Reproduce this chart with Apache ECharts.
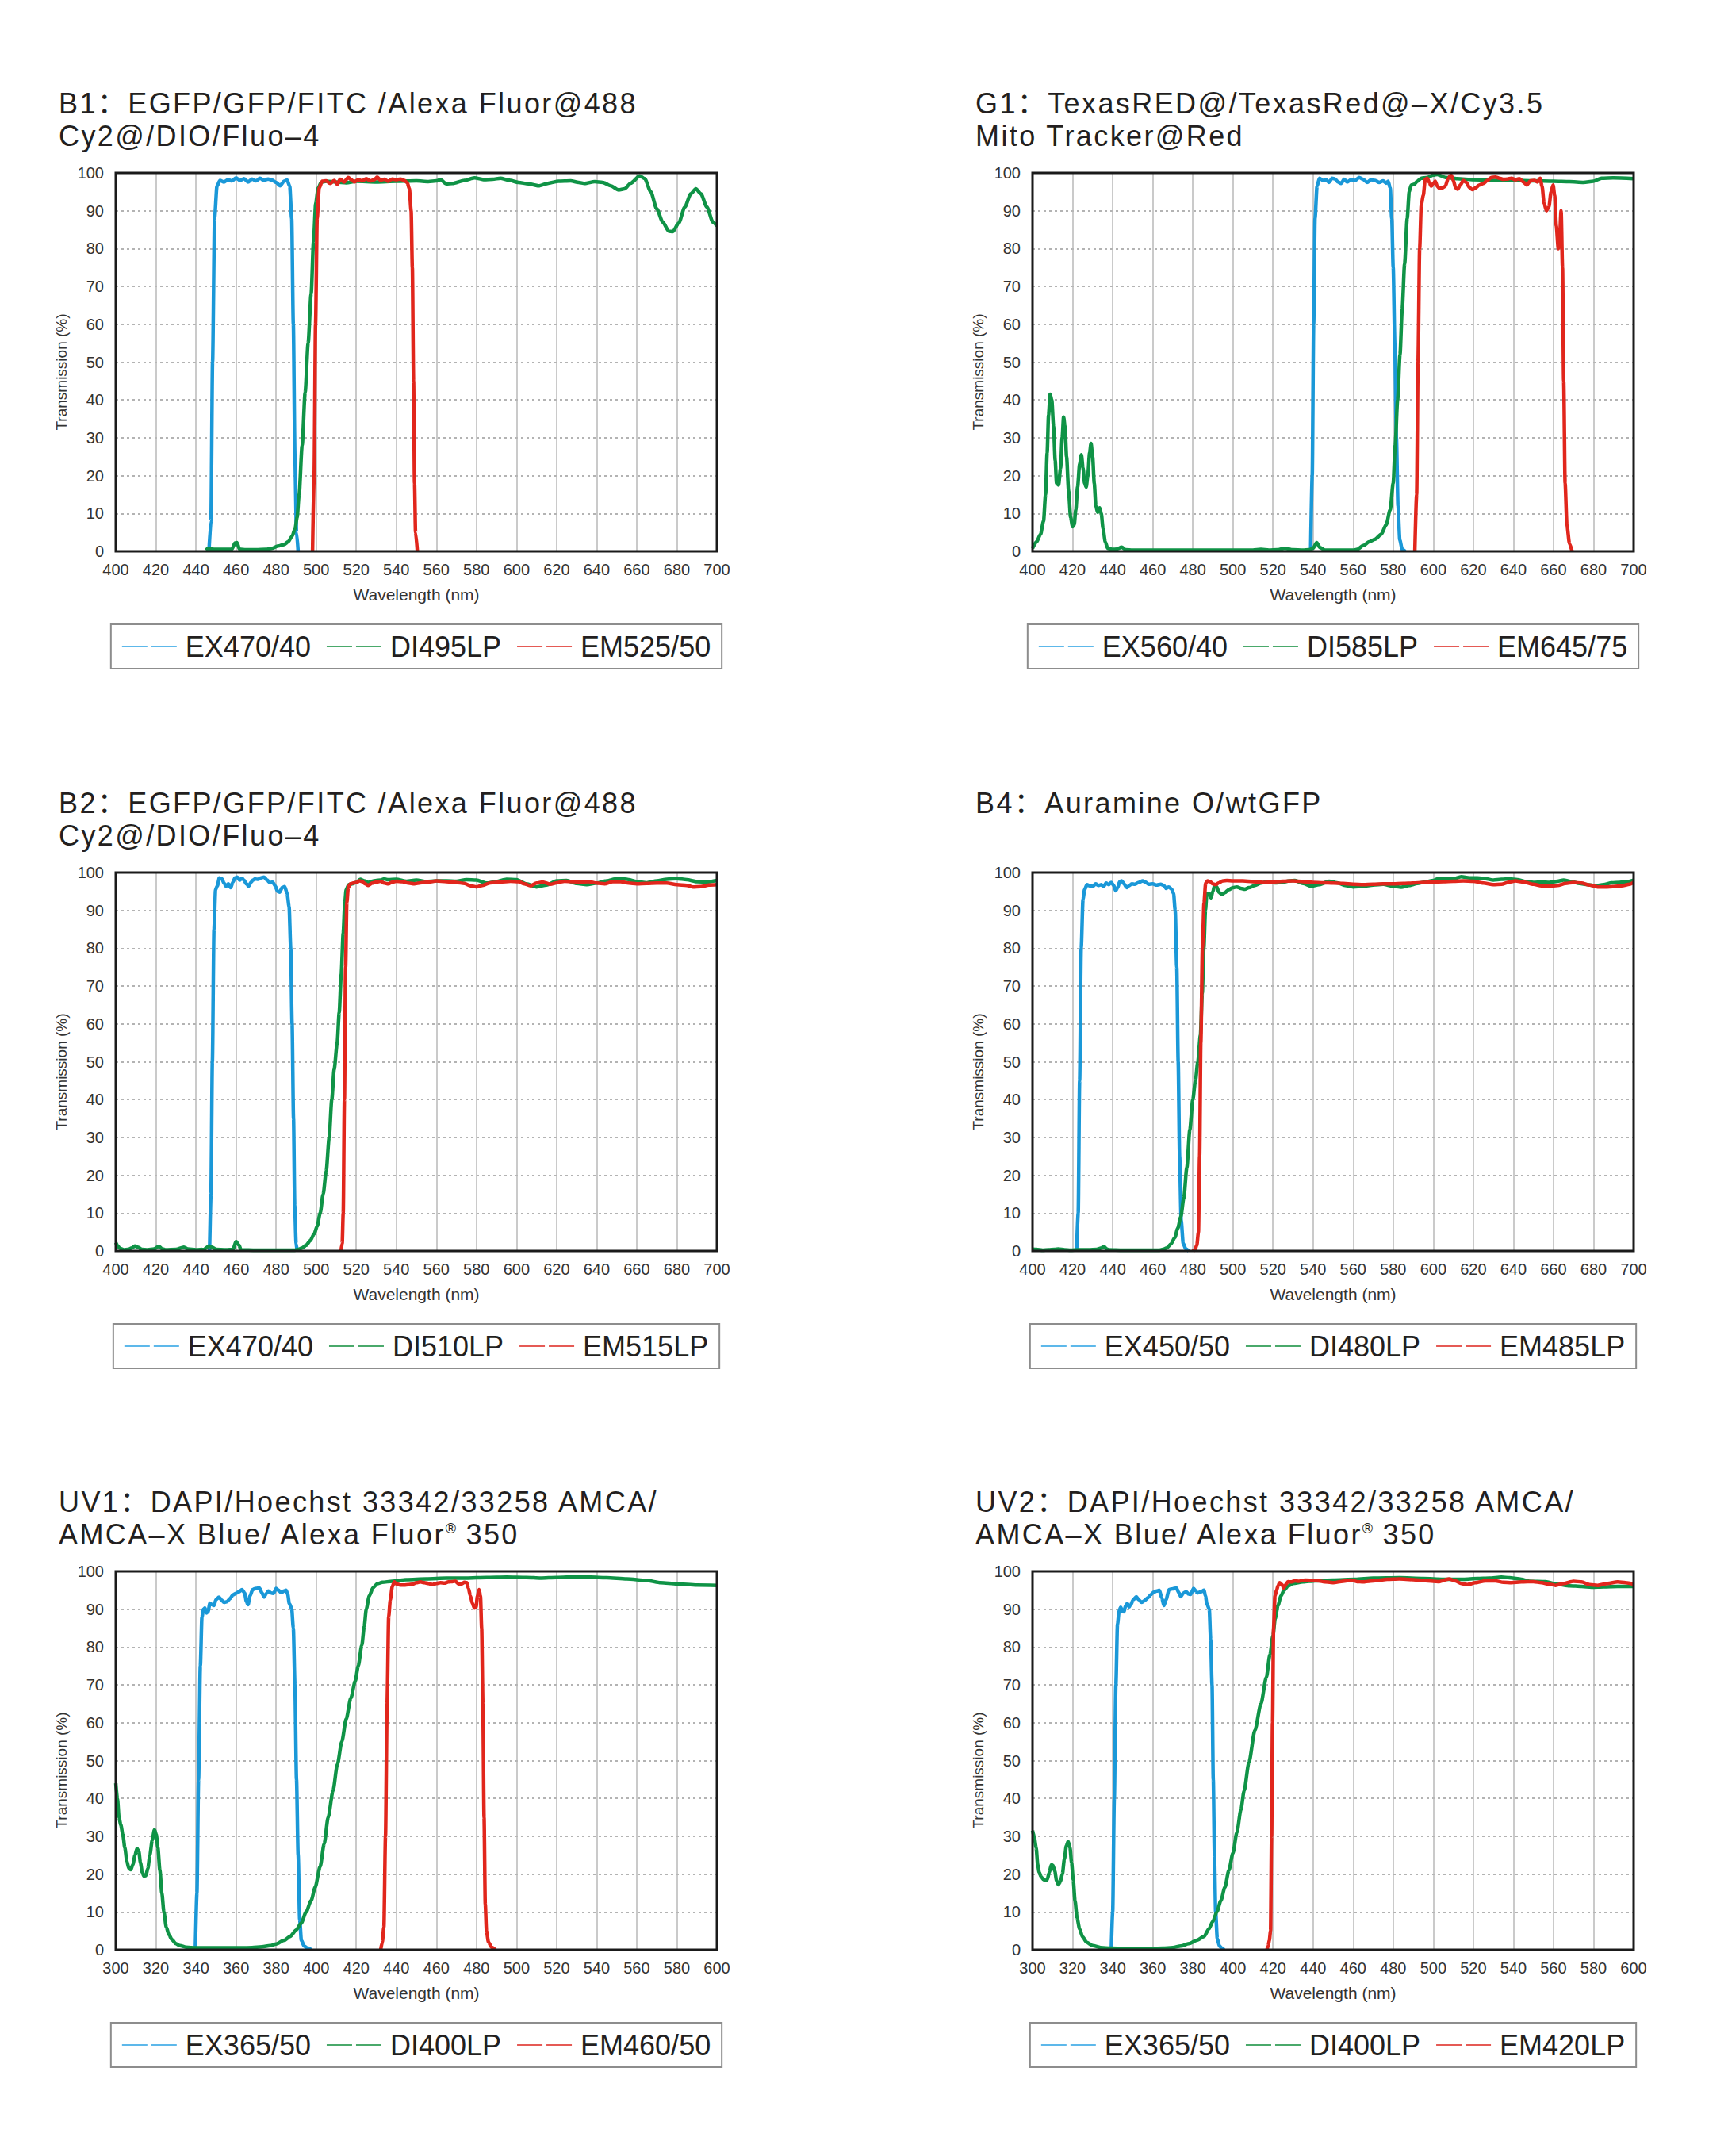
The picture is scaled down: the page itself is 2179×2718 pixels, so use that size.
<!DOCTYPE html>
<html>
<head>
<meta charset="utf-8">
<script src="https://cdn.jsdelivr.net/npm/echarts@6/dist/echarts.min.js"></script>
<style>
  html, body { margin: 0; padding: 0; background: #ffffff; }
  body { width: 2179px; height: 2718px; position: relative; overflow: hidden; }
  .panel { position: absolute; width: 1050px; height: 882px; }
  .chart { position: absolute; left: 0; top: 0; width: 1050px; height: 882px; }
  .title { position: absolute; left: 74px; top: 110px; z-index: 2;
           font-family: 'Liberation Sans', Arial, 'Noto Sans CJK SC', sans-serif;
           font-size: 36px; line-height: 41px; letter-spacing: 2.4px; color: #231f20; white-space: pre; }
  .title sup { font-size: 18px; letter-spacing: 0; vertical-align: 14px; line-height: 0; }
</style>
</head>
<body>
<div id="root"></div>
<script>
// ---------------- DATA ----------------
// B1
const b1Ex = [[446.5,0],[447.5,8],[448.3,50],[449.3,88],[450.5,96.5],[452,98],[454,97.6],[456,98.2],[458,97.9],[460,98.7],[462,98],[464,98.5],[466,97.6],[468,98.4],[470,97.9],[472,98.6],[474,98],[476,98.4],[478,98.1],[480,97.5],[482,96.6],[484,97.8],[485.5,98.1],[486.8,96.5],[487.8,88],[488.6,60],[489.4,25],[490.2,5],[491,0]];
const b1Di = [[445,0.3],[446,0.8],[448,0.6],[450,0.5],[455,0.5],[458,0.6],[459.5,2.2],[460.5,2.3],[461.7,0.6],[465,0.4],[470,0.4],[475,0.5],[478,0.8],[481,1.4],[484,1.8],[486,2.5],[488,4],[489.5,6],[490.5,9],[491.5,15],[493,28],[494.5,42],[496,55],[497.5,68],[498.7,82],[499.8,92],[501,96],[502.5,97.5],[505,97.8],[510,97.6],[515,97.4],[520,97.8],[530,97.6],[540,97.8],[550,97.9],[556,97.7],[560,97.9],[562,98.2],[565,97.1],[568,97.2],[574,98],[579,98.7],[584,98.2],[588,98.3],[592,98.6],[596,98.1],[601,97.5],[606,97.1],[611,96.6],[616,97.3],[621,97.8],[627,97.9],[631,97.5],[634,97.2],[639,97.7],[643,97.5],[647,96.6],[651,95.5],[654,95.8],[657,97.3],[661.5,99.2],[664,98.5],[667,95],[670,90.5],[673,87],[676,84.6],[678,84.5],[681,86.8],[684,91],[687,94.5],[689.5,95.8],[692,94.5],[695,91],[698,87],[700,86]];
const b1Em = [[498.2,0],[499,20],[499.7,60],[500.5,88],[501.5,96],[503,97.8],[505,97.9],[507,97.2],[509,98],[510.5,97],[512,98.3],[514,97.6],[516,98.8],[517.5,98.2],[519,97.6],[521,98.2],[523,97.9],[525,98.5],[527,97.9],[529,98.2],[530.5,98.9],[532,98.1],[534,98.3],[536,97.8],[538,98.4],[540,98.2],[542,98.4],[544,98],[545.5,97.4],[546.5,95.8],[547.4,90],[548,75],[548.6,45],[549.1,18],[549.6,5],[550.5,0]];
// G1
const g1Ex = [[538.8,0],[539.6,20],[540.3,60],[541,88],[542,96.5],[543.2,98.6],[545,98],[546.5,98.2],[548,97.5],[549.5,98.6],[551,98.4],[552.5,97.6],[554,97.2],[555.5,98.3],[557,97.6],[559,98.2],[561,98],[563,98.8],[565,98.3],[567,97.5],[569,98.2],[571,98],[573,97.5],[575,97.9],[576.5,97.3],[577.5,97.8],[578.5,96],[579.3,88],[580,75],[580.8,55],[581.6,30],[582.4,12],[583.3,3],[584.5,0.5],[586,0]];
const g1Di = [[400,0.8],[402,2.5],[404,4.5],[405.5,8],[406.5,15],[407.3,26],[408,36],[408.8,41.5],[409.6,40],[410.5,33],[411.3,24],[412,18],[413,17.5],[414,22],[414.8,30],[415.5,35.5],[416.2,33],[417,25],[418,16],[419,9],[420,6.5],[420.8,7],[421.6,11],[422.5,17],[423.5,23],[424.4,25.5],[425.2,22],[426,18],[426.8,17],[427.6,20],[428.5,26],[429.2,28.5],[430,25],[430.8,18],[431.6,12],[432.5,10.3],[433.5,11.5],[434.3,10],[435.2,6],[436.3,2.5],[437.5,0.8],[440,0.5],[442,0.6],[444.5,1.1],[446.5,0.4],[450,0.3],[480,0.3],[510,0.3],[514,0.5],[518,0.3],[522,0.4],[526,0.8],[530,0.4],[535,0.3],[538,0.4],[540,0.8],[541.8,2.3],[543.5,1],[546,0.3],[560,0.3],[562,0.5],[565,1.5],[568,2.5],[571,3.2],[574,4.5],[576.5,7],[578.5,11],[580,18],[581,28],[582.2,40],[583.4,52],[584.5,64],[585.7,76],[587,88],[588,95],[589,96.8],[590.5,97],[592,97.8],[594,98.6],[597,98.8],[600,99.4],[602,99.6],[606,98.8],[612,98.5],[620,98.2],[630,98],[640,98],[650,97.9],[660,97.8],[668,97.7],[675,97.5],[680,97.8],[684,98.6],[690,98.7],[700,98.5]];
const g1Em = [[590.8,0],[591.7,15],[592.4,50],[593.2,80],[594,91.5],[595,94],[596,98.3],[597,98.6],[598,97.5],[599,96.5],[600,97.2],[601,97.8],[602,96.5],[603,95.9],[604.5,96],[606,96.5],[607.5,98.6],[608.9,99.5],[610,98],[611.2,96],[612.2,95.7],[613.5,96.8],[615,98],[616.5,97.5],[618,96.2],[619.5,95.6],[621,96],[623,96.8],[625,97.2],[627,98],[629,98.8],[631,98.9],[633,98.6],[635,98.3],[637,98.4],[639,98.6],[641,98.2],[643,98.5],[645,97.6],[646.7,96.8],[648.5,97.9],[650.5,98],[652,97.6],[653.3,98.6],[654.3,96.5],[655.3,92],[656.5,90],[657.7,91],[658.8,95],[659.8,96.8],[660.6,94],[661.4,86],[662.4,80],[663,82],[663.8,90],[664.5,75],[665.1,45],[665.8,18],[666.7,7],[668,2],[669.3,0]];
// B2
const b2Ex = [[446.8,0],[447.5,15],[448.2,50],[449,85],[449.8,95.5],[450.7,96.5],[451.7,98.6],[453,98.3],[454,97.2],[455,96.4],[456.2,97],[457.3,96],[458.5,97.5],[459.5,98.6],[460.6,98.8],[461.8,98],[463,98.5],[464,98],[465.2,97],[466.4,96.4],[467.4,97.4],[468.5,98],[469.5,98.3],[471,98.2],[472.5,98.6],[474,98.8],[475.5,98],[477,97.3],[478.3,97.5],[479.5,96.5],[480.8,95],[481.8,94.8],[483,96],[484.3,96.3],[485.5,94.5],[486.5,91],[487.3,80],[488,60],[488.7,35],[489.3,12],[490,2],[490.5,0]];
const b2Di = [[400,2.2],[401,1.3],[402,0.7],[404,0.3],[406,0.4],[408,0.8],[409.5,1.3],[411,1],[413,0.4],[416,0.3],[419,0.5],[421.5,1.2],[423,0.6],[425,0.3],[430,0.4],[434,1],[436,0.5],[440,0.3],[444,0.4],[446.5,1.3],[448,1],[450,0.4],[455,0.3],[458.5,0.4],[460,2.5],[461.5,1.5],[462.5,0.3],[470,0.2],[480,0.2],[489,0.2],[491,0.4],[493,0.8],[495,1.5],[497,2.7],[499,4.5],[500.5,6.5],[502,10],[503.5,15],[505,21],[506.5,30],[507.8,40],[509,48],[510.5,55],[511.5,63],[512.5,73],[513.5,84],[514.3,92],[515,95.5],[516.3,96.8],[518,97],[520,97.4],[522,98.2],[524,97.8],[526,97.4],[528,97.7],[530,97.9],[532,98],[534,98.3],[536,98.1],[540,98.2],[545,97.7],[550,98],[555,97.6],[560,97.8],[565,97.8],[570,97.7],[575,98.1],[580,98],[585,97.2],[590,97.6],[595,98.2],[600,98.1],[605,97],[610,96.2],[615,96.7],[620,97.8],[625,97.9],[630,97.1],[635,96.8],[640,97.2],[645,97.8],[650,98.4],[655,98.2],[660,97.6],[665,97.3],[670,97.8],[675,98.2],[680,98.4],[685,98.1],[690,97.6],[695,97.5],[700,97.9]];
const b2Em = [[512.4,0],[513,2],[513.5,10],[514.1,40],[514.7,75],[515.3,92],[516,96],[517,97],[518.5,97.2],[520,97.4],[521.7,97.8],[523,97.6],[524.5,97],[526,96.6],[528,97.2],[530,97.5],[532,97.7],[534,97.2],[536,97],[538,97.5],[540,97.7],[543,97.6],[546,97.2],[549,97],[552,97.3],[556,97.5],[560,97.8],[565,97.6],[570,97.4],[574,97.1],[577,96.5],[580,96.2],[583,96.6],[587,97.3],[592,97.5],[597,97.7],[601,97.6],[604,97],[607,96.5],[610,97.2],[613,97.5],[617,96.9],[620,97.3],[624,97.7],[628,97.6],[632,97.5],[636,97.6],[640,97.2],[644,97],[648,97.6],[652,97.6],[656,97.2],[660,97],[665,97.1],[670,97.2],[675,97.2],[680,96.8],[685,96.6],[688,96.2],[692,96.3],[696,96.7],[700,96.8]];
// B4
const b4Ex = [[422,0],[422.8,10],[423.5,45],[424.3,80],[425.2,93],[426,95.5],[427.2,96.8],[428.5,96.5],[430,96.3],[431.5,97],[433,96.6],[434.3,96.8],[435.5,96.3],[436.7,97.2],[438,96.8],[439.3,97.4],[440.5,96.6],[441.5,95.2],[442.5,96],[443.5,97.6],[444.5,97.8],[445.7,97],[447,96],[448.2,96.5],[449.5,97],[451,96.9],[453,97.4],[455,97.8],[456.3,97.5],[458,96.9],[460,97],[462,96.7],[464,96.9],[465.5,96.6],[466.7,95.8],[468,96.2],[469.4,95.6],[470.4,94.5],[471.2,90],[472,75],[472.7,50],[473.4,25],[474.2,8],[475.2,2],[476.5,0.5],[478,0]];
const b4Di = [[400,0.5],[402,0.4],[405,0.2],[408,0.3],[411,0.4],[413,0.5],[416,0.3],[419,0.2],[423,0.3],[428,0.3],[432,0.4],[434.5,0.8],[435.6,1.2],[436.8,0.6],[438,0.3],[445,0.2],[455,0.2],[463,0.2],[465,0.4],[467,0.8],[469,1.8],[471,3.5],[472.5,6],[474,9],[475.5,14],[477,22],[478.5,32],[480,40],[481.3,45],[482.5,50],[483.8,57],[484.7,68],[485.5,80],[486.3,90],[487,94.5],[488,94.5],[489,93.3],[490,95],[491,96.8],[492,96.2],[493,94.8],[494.5,94.2],[496,94.7],[498,95.5],[500,96],[502,96.2],[504,95.8],[506,95.6],[508,96],[511,96.6],[514,97.2],[517,97.6],[521,97.3],[525,97.4],[528,97.8],[531,97.9],[535,97.1],[539,96.4],[543,96.8],[548,97.7],[552,97.3],[556,96.6],[560,96.2],[565,96.4],[570,96.7],[575,96.9],[580,96.4],[584,96.1],[588,96.6],[592,97.1],[596,97.5],[600,97.9],[603,98.5],[606,98.3],[610,98.3],[614,98.9],[618,98.6],[622,98.6],[626,98.4],[630,98],[634,98.2],[638,98.3],[642,98.1],[646,97.6],[650,97.4],[654,97.5],[658,97.4],[662,97.7],[665,98],[669,97.6],[673,97.1],[677,96.8],[681,96.5],[685,96.8],[689,97.3],[693,97.4],[697,97.6],[700,98]];
const b4Em = [[480,0],[481,0.3],[482,1.5],[482.8,5],[483.4,25],[484,55],[484.8,80],[485.6,92],[486.4,97.2],[487.4,97.8],[488.6,97.6],[490,97],[491.5,96.8],[493,97.3],[495,97.8],[497,97.9],[500,97.8],[505,97.8],[510,97.6],[515,97.4],[520,97.5],[525,97.7],[530,97.8],[535,97.6],[540,97.4],[545,97.3],[550,97.2],[555,97.1],[560,96.9],[565,96.8],[570,96.9],[575,97],[580,97],[585,97.1],[590,97.2],[595,97.4],[600,97.5],[605,97.6],[610,97.7],[615,97.8],[620,97.7],[625,97.2],[630,96.8],[634,96.9],[638,97.5],[641,97.8],[645,97.5],[650,96.9],[654,96.5],[658,96.4],[662,96.6],[666,97.1],[670,97.4],[674,97.2],[678,96.7],[682,96.2],[686,96.2],[690,96.3],[694,96.5],[698,96.9],[700,97.4]];
// UV1
const uv1Ex = [[339.7,0],[340.5,15],[341.3,45],[342.2,75],[343,88],[343.8,90],[344.5,90.3],[345.3,89],[346,89.3],[347,91.6],[348,91.2],[349,91],[350,92.5],[351.5,93.2],[352.8,92.4],[354,91.8],[355.5,92],[357,92.8],[358.5,93.8],[360,94.2],[361.5,94.6],[363,95.2],[364.3,94.3],[365.2,92],[366,91.2],[367,93.5],[368.3,95.2],[370,95.5],[371.7,95.6],[373,94.3],[374,93.2],[375.2,94.2],[376.2,94.8],[377.5,94.3],[378.8,94.2],[380,95.5],[381.2,95],[382.5,94.4],[384,94.8],[385,95],[385.8,94],[386.6,91.5],[387.8,90.2],[388.6,85],[389.4,70],[390.2,45],[391,25],[391.8,8],[392.6,2.5],[394,1],[395.5,0.5],[397.5,0]];
const uv1Di = [[300,44],[300.8,40],[301.6,35],[302.5,33],[303.5,30.5],[304.5,27],[305.5,23.5],[306.5,21.5],[307.5,21.2],[308.5,22.5],[309.6,25],[310.6,26.8],[311.5,26],[312.3,23],[313.2,20.5],[314,19.5],[315,19.6],[316,21.5],[317,25],[318.2,29],[319.3,31.7],[320.2,30.5],[321,27],[322,21],[323,15],[324,10],[325.2,6],[326.5,4],[328,2.7],[330,1.6],[332,1.1],[335,0.7],[340,0.5],[350,0.5],[360,0.5],[368,0.6],[373,0.8],[377,1.1],[380,1.5],[384,2.5],[387,3.5],[390,5.2],[392.5,7],[395,10],[397.5,13],[399.5,16.5],[402,22],[404,28],[406,35],[408.4,42],[410.6,49],[412.8,55],[415,61],[417.3,66.5],[419.5,71],[421,75],[422.8,80.5],[424,85.5],[425,90],[426.5,93.5],[428.4,95.7],[430.5,96.7],[433,97.1],[438,97.4],[445,97.8],[455,98],[465,98.2],[475,98.2],[485,98.4],[495,98.5],[505,98.4],[512,98.2],[520,98.4],[530,98.6],[537,98.5],[545,98.3],[555,98],[565,97.6],[572,97],[580,96.7],[590,96.4],[600,96.3]];
const uv1Em = [[432.2,0],[433,2],[433.8,6],[434.6,30],[435.4,65],[436.2,88],[437,92.5],[438,96],[439,97.2],[440,96.7],[442,96.4],[444,96.4],[446,96.5],[448,96.6],[450,97],[452,97.2],[454,97],[456,96.8],[458,96.5],[460,96.8],[462,97],[464,96.9],[466,97.2],[468,97.3],[469.5,97.4],[471,96.7],[472.5,96.7],[474,97.1],[475.2,97],[476,95.5],[477,93.5],[478,91.5],[479,90.3],[479.8,90.5],[480.5,93.5],[481.3,95.2],[482,93.5],[482.6,85],[483.2,65],[483.8,35],[484.4,12],[485,5],[486,2],[487.5,0.7],[489.5,0]];
// UV2
const uv2Ex = [[339.3,0],[340,10],[340.8,40],[341.6,70],[342.4,86],[343.2,89.5],[344,90.5],[344.8,89.5],[345.6,89.3],[346.5,91],[347.3,91.5],[348.2,90.6],[349,91.2],[350.3,92.5],[351.8,93.3],[353,92.5],[354.4,91.8],[356,92.3],[357.5,93],[359,93.8],[360.5,94.5],[362,94.8],[363.3,95],[364.5,93],[365.6,91],[366.6,92.5],[368.2,95.2],[370,95.4],[371.8,95.6],[373,94.4],[374,93.3],[375.3,94.3],[376.7,94.6],[378,94],[378.9,93.9],[380.4,95.5],[381.5,94.8],[382.2,94.3],[384,94.6],[385.6,95],[386.3,93.5],[387,91.5],[388.2,90],[388.9,82],[389.6,70],[390.2,45],[390.8,25],[391.4,10],[392.2,3],[393.3,1],[394.5,0.4],[395.6,0]];
const uv2Di = [[300,31.5],[300.8,30],[301.8,27],[302.6,22.5],[303.3,20.5],[304.3,19.3],[305.4,18.6],[306.4,18.3],[307.3,18.5],[308.4,20.5],[309.4,22.5],[310.2,22.3],[311.1,20.8],[312,18.3],[312.9,17.2],[313.9,18],[314.9,20],[315.9,24],[316.9,27.5],[317.8,28.6],[318.7,27],[319.5,23],[320.3,18.5],[321.2,13],[322.2,8.5],[323.5,5.5],[325,3.4],[327,2],[330,1.1],[334,0.6],[339,0.4],[350,0.3],[360,0.3],[365,0.4],[370,0.6],[374,1],[378,1.6],[382,2.5],[385.6,3.5],[388,5.5],[390,7.5],[392,10],[394,13],[396,16.5],[398,21],[400,25.5],[402,31],[404,37],[405.6,42],[408,49.5],[411,58],[414,65],[416.7,72],[418.5,78],[420,83],[421.1,87.5],[422.5,91],[424,93.5],[425.5,95],[427.5,96.1],[430,96.8],[435,97.2],[441,97.5],[450,97.7],[461,97.9],[470,98.2],[483,98.3],[495,98.1],[505,97.9],[515,97.9],[522,98.1],[528,98.2],[534,98.5],[538,98.3],[543,98],[548,97.4],[556,97.3],[562,96.6],[568,96.2],[574,96],[579,95.8],[585,95.9],[592,96],[600,96]];
const uv2Em = [[417,0],[417.6,1],[418.2,2.5],[418.8,5],[419.3,30],[419.8,60],[420.3,85],[421,93.5],[421.8,95],[422.6,96.3],[423.3,97],[424.5,96.5],[425.4,95.6],[426.4,96.5],[427.5,97.3],[429,97.2],[431,97.5],[433,97.4],[436,97.7],[441,97.6],[445,97.3],[450,97],[455,97.4],[459,97.7],[462,97.3],[465,97.2],[468,97.4],[472,97.6],[477,97.9],[483,98],[490,97.8],[495,97.6],[500,97.4],[503,97.3],[507.8,98],[511,97.5],[514,96.8],[517,96.5],[521,97],[526,97.5],[531,97.5],[535,97.1],[539,97],[544,97.2],[550,97.3],[554,97],[558,96.6],[561,96.3],[565,96.8],[570,97.4],[574,97.2],[578,96.5],[582,96.3],[587,96.8],[592,97.2],[596,97],[600,96.6]];

// Titles, legend names, axis ranges
const titles = [
  ['B1：EGFP/GFP/FITC /Alexa Fluor@488', 'Cy2@/DIO/Fluo–4'],
  ['G1：TexasRED@/TexasRed@–X/Cy3.5', 'Mito Tracker@Red'],
  ['B2：EGFP/GFP/FITC /Alexa Fluor@488', 'Cy2@/DIO/Fluo–4'],
  ['B4：Auramine O/wtGFP', ''],
  ['UV1：DAPI/Hoechst 33342/33258 AMCA/', 'AMCA–X Blue/ Alexa Fluor® 350'],
  ['UV2：DAPI/Hoechst 33342/33258 AMCA/', 'AMCA–X Blue/ Alexa Fluor® 350']
];
const legendNames = [
  ['EX470/40', 'DI495LP', 'EM525/50'],
  ['EX560/40', 'DI585LP', 'EM645/75'],
  ['EX470/40', 'DI510LP', 'EM515LP'],
  ['EX450/50', 'DI480LP', 'EM485LP'],
  ['EX365/50', 'DI400LP', 'EM460/50'],
  ['EX365/50', 'DI400LP', 'EM420LP']
];
const xMins = [400, 400, 400, 400, 300, 300];
const xMaxs = [700, 700, 700, 700, 600, 600];
const yTicks = [0, 100, 10];
const seriesData = [
  [b1Ex, b1Di, b1Em], [g1Ex, g1Di, g1Em], [b2Ex, b2Di, b2Em],
  [b4Ex, b4Di, b4Em], [uv1Ex, uv1Di, uv1Em], [uv2Ex, uv2Di, uv2Em]
];

// ---------------- STYLE / LAYOUT ----------------
const lineColors = ['#1a98d8', '#0f9346', '#e1261c'];
const legendColors = ['#5db8ea', '#4aa96b', '#e55a55'];
const panelLefts = [0, 1156];
const panelTops = [0, 882, 1763];
const FONT = "'Liberation Sans', Arial, sans-serif";
const G = { left: 146, top: 218, width: 758, height: 477 };

const root = document.getElementById('root');
for (let i = 0; i < 6; i++) {
  const panel = document.createElement('div');
  panel.className = 'panel';
  panel.style.left = panelLefts[i % 2] + 'px';
  panel.style.top = panelTops[Math.floor(i / 2)] + 'px';
  const t = document.createElement('div');
  t.className = 'title';
  const fmt = s => s.replace('®', '<sup>®</sup>');
  t.innerHTML = fmt(titles[i][0]) + (titles[i][1] ? '<br>' + fmt(titles[i][1]) : '');
  const c = document.createElement('div');
  c.className = 'chart';
  panel.appendChild(c);
  panel.appendChild(t);
  root.appendChild(panel);

  const chart = echarts.init(c, null, { renderer: 'svg' });
  const names = legendNames[i];
  chart.setOption({
    animation: false,
    backgroundColor: 'transparent',
    grid: { left: G.left, top: G.top, width: G.width, height: G.height, show: false },
    graphic: [{
      type: 'rect', z: 100, silent: true,
      shape: { x: G.left, y: G.top, width: G.width, height: G.height },
      style: { fill: 'none', stroke: '#1a1a1a', lineWidth: 3 }
    }],
    legend: {
      left: 'center', top: 787,
      padding: [10, 14], borderColor: '#8d8d8d', borderWidth: 2,
      itemGap: 20, itemWidth: 69, itemHeight: 2,
      icon: 'path://M0,0H32V2H0Z M37,0H69V2H37Z',
      textStyle: { fontFamily: FONT, fontSize: 36, lineHeight: 35, color: '#231f20', padding: [0, 0, 0, 6] },
      data: names.map((n, k) => ({ name: n, itemStyle: { color: legendColors[k] } }))
    },
    xAxis: {
      type: 'value', min: xMins[i], max: xMaxs[i], interval: 20,
      name: 'Wavelength (nm)', nameLocation: 'middle', nameGap: 44,
      nameTextStyle: { fontFamily: FONT, fontSize: 21, color: '#333' },
      axisLine: { show: false },
      axisTick: { show: false },
      axisLabel: { fontFamily: FONT, fontSize: 20, color: '#333', margin: 13 },
      splitLine: { show: true, lineStyle: { color: '#b8b8b8', width: 1.5, type: 'solid' } }
    },
    yAxis: {
      type: 'value', min: yTicks[0], max: yTicks[1], interval: yTicks[2],
      name: 'Transmission (%)', nameLocation: 'middle', nameGap: 42,
      nameTextStyle: { fontFamily: FONT, fontSize: 19, color: '#333', padding: [0, 25, 0, 0] },
      axisLine: { show: false },
      axisTick: { show: false },
      axisLabel: { fontFamily: FONT, fontSize: 20, color: '#333', margin: 15 },
      splitLine: { show: true, lineStyle: { color: '#9a9a9a', width: 1.5, type: [3, 4] } }
    },
    series: seriesData[i].map((d, k) => ({
      name: names[k], type: 'line', data: d,
      showSymbol: false, symbol: 'none',
      smooth: 0.25, smoothMonotone: 'x',
      lineStyle: { color: lineColors[k], width: 4.5 },
      itemStyle: { color: lineColors[k] },
      z: 2 + k
    }))
  });
}
</script>
</body>
</html>
